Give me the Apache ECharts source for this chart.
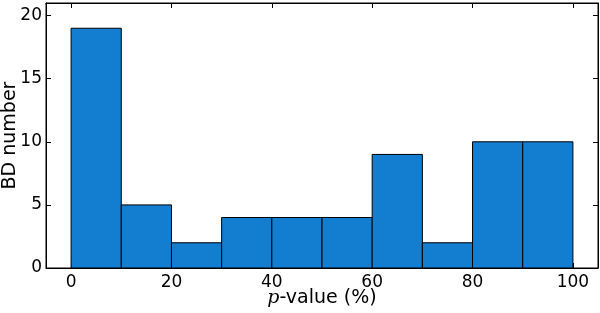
<!DOCTYPE html>
<html><head><meta charset="utf-8">
<script src="https://cdn.jsdelivr.net/npm/echarts@6/dist/echarts.min.js"></script>
<style>html,body{margin:0;padding:0;background:#fff}#c{width:600px;height:313px}</style>
</head><body><div id="c"></div>
<script>
const binEdges = [0, 10, 20, 30, 40, 50, 60, 70, 80, 90, 100];
const counts = [19, 5, 2, 4, 4, 4, 9, 2, 10, 10];
const xTicks = [0, 20, 40, 60, 80, 100];
const yTicks = [0, 5, 10, 15, 20];

const data = counts.map((c, i) => [binEdges[i], binEdges[i + 1], c]);
const font = 'DejaVu Sans';
const chart = echarts.init(document.getElementById('c'));
const tickX = {show: true, inside: true, length: 5, customValues: xTicks, lineStyle: {color: '#000', width: 1}};
const tickY = {show: true, inside: true, length: 5, customValues: yTicks, lineStyle: {color: '#000', width: 1}};
chart.setOption({
  animation: false,
  grid: {left: 46, right: 2, top: 3, bottom: 45, show: true, borderColor: '#000', borderWidth: 1,
         containLabel: false, outerBoundsMode: 'none'},
  xAxis: [{
    type: 'value', min: -5, max: 105,
    axisLine: {show: true, onZero: false, lineStyle: {color: '#000'}},
    axisTick: tickX,
    axisLabel: {customValues: xTicks, color: '#000', fontFamily: font, fontSize: 17, margin: 6},
    splitLine: {show: false},
    name: '{i|p}-value (%)', nameLocation: 'middle', nameGap: 21, nameMoveOverlap: false,
    nameTextStyle: {color: '#000', fontFamily: font, fontSize: 19,
      rich: {i: {fontStyle: 'italic', fontFamily: 'DejaVu Serif', fontSize: 19, color: '#000'}}}
  }, {
    type: 'value', min: -5, max: 105, position: 'top',
    axisLine: {show: true, onZero: false, lineStyle: {color: '#000'}},
    axisTick: tickX, axisLabel: {show: false}, splitLine: {show: false}
  }],
  yAxis: [{
    type: 'value', min: 0, max: 21,
    axisLine: {show: true, onZero: false, lineStyle: {color: '#000'}},
    axisTick: tickY,
    axisLabel: {customValues: yTicks, color: '#000', fontFamily: font, fontSize: 17, margin: 4},
    splitLine: {show: false},
    name: 'BD number', nameLocation: 'middle', nameGap: 26, nameRotate: 90, nameMoveOverlap: false,
    nameTextStyle: {color: '#000', fontFamily: font, fontSize: 19}
  }, {
    type: 'value', min: 0, max: 21, position: 'right',
    axisLine: {show: true, onZero: false, lineStyle: {color: '#000'}},
    axisTick: tickY, axisLabel: {show: false}, splitLine: {show: false}
  }],
  series: [{
    type: 'custom',
    data: data,
    renderItem: function (params, api) {
      const p0 = api.coord([api.value(0), 0]);
      const p1 = api.coord([api.value(1), api.value(2)]);
      return {
        type: 'rect',
        shape: {x: p0[0], y: p1[1], width: p1[0] - p0[0], height: p0[1] - p1[1]},
        style: {fill: '#137ed0', stroke: '#000', lineWidth: 1}
      };
    },
    encode: {x: [0, 1], y: 2}
  }]
});
</script></body></html>
